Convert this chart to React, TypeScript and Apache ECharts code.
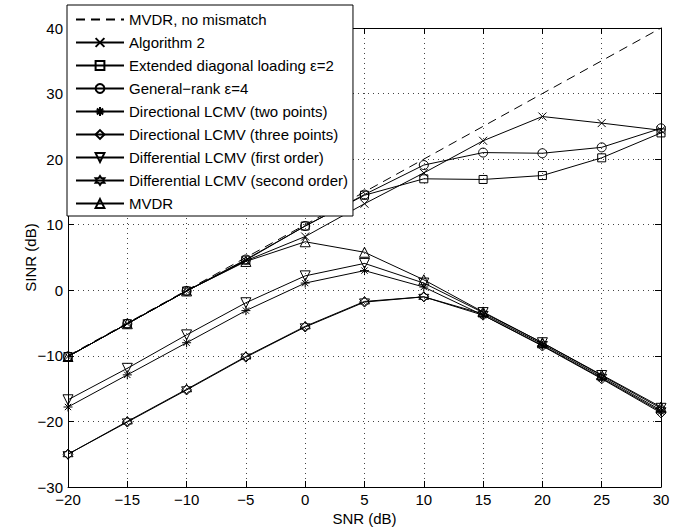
import React, { useEffect, useRef } from "react";
import * as echarts from "echarts";

// SNR grid (dB)
const snr = [-20, -15, -10, -5, 0, 5, 10, 15, 20, 25, 30];

// SINR curves (dB)
const mvdrIdeal = [-10, -5, 0, 5, 10, 15, 20, 25, 30, 35, 40];
const algorithm2 = [-10.1, -5.1, -0.1, 4.5, 8.2, 13.2, 17.9, 22.8, 26.5, 25.5, 24.4];
const extDiagLoading = [-10.1, -5.1, -0.1, 4.6, 9.8, 14.5, 17.0, 16.9, 17.5, 20.2, 24.0];
const generalRank = [-10.1, -5.1, -0.1, 4.7, 9.8, 14.6, 19.1, 21.0, 20.9, 21.8, 24.7];
const dirLcmvTwo = [-17.8, -12.9, -8.0, -3.1, 1.1, 3.0, 0.5, -3.8, -8.4, -13.4, -18.5];
const dirLcmvThree = [-25.0, -20.1, -15.2, -10.2, -5.6, -1.8, -1.0, -3.8, -8.5, -13.5, -18.7];
const diffLcmvFirst = [-16.7, -11.9, -6.8, -1.9, 2.2, 4.1, 1.1, -3.4, -8.0, -13.0, -18.0];
const diffLcmvSecond = [-25.0, -20.0, -15.1, -10.1, -5.5, -1.7, -1.0, -3.6, -8.2, -13.2, -18.3];
const mvdr = [-10.1, -5.1, -0.1, 4.4, 7.4, 5.8, 1.6, -3.3, -8.0, -12.9, -17.8];

// Tick values
const xTicks = { min: -20, max: 30, step: 5 };
const yTicks = { min: -30, max: 40, step: 10 };

const seriesNames = [
  "MVDR, no mismatch",
  "Algorithm 2",
  "Extended diagonal loading \u03b5=2",
  "General\u2212rank \u03b5=4",
  "Directional LCMV (two points)",
  "Directional LCMV (three points)",
  "Differential LCMV (first order)",
  "Differential LCMV (second order)",
  "MVDR",
];

// Marker outlines
const SYM_X = "path://M0 0 L10 10 M10 0 L0 10";
const SYM_STAR = "path://M5 0 L5 10 M0 5 L10 5 M1.5 1.5 L8.5 8.5 M8.5 1.5 L1.5 8.5";
const SYM_TRI_DOWN = "path://M0 0 L10 0 L5 10 Z";
const SYM_TRI_UP = "path://M5 0 L10 10 L0 10 Z";
const SYM_HEXAGRAM =
  "path://M5 0 L6.443 2.5 L9.33 2.5 L7.887 5 L9.33 7.5 L6.443 7.5 L5 10 L3.557 7.5 L0.67 7.5 L2.113 5 L0.67 2.5 L3.557 2.5 Z";

const FONT = "'Liberation Sans', Arial, Helvetica, sans-serif";
const FONT_SIZE = 15;

const fmt = (v: number) => String(v).replace("-", "\u2212");

function makeSeries(
  name: string,
  values: number[],
  symbol: string,
  symbolSize: number,
  dashed = false
) {
  const noMarker = symbol === "none";
  return {
    name,
    type: "line",
    data: snr.map((x, i) => [x, values[i]]),
    symbol: noMarker ? "circle" : symbol,
    symbolSize,
    showSymbol: !noMarker,
    color: "#000",
    lineStyle: {
      color: "#000",
      width: 1,
      type: dashed ? [9, 6] : "solid",
    },
    itemStyle: {
      color: "rgba(0,0,0,0)",
      borderColor: noMarker ? "rgba(0,0,0,0)" : "#000",
      borderWidth: noMarker ? 0 : 1,
    },
    emphasis: { disabled: true },
    z: 2,
  };
}

export default function App() {
  const ref = useRef<HTMLDivElement>(null);

  useEffect(() => {
    if (!ref.current) return;
    const chart = echarts.init(ref.current, undefined, { renderer: "svg" });

    const axisLine = { show: true, onZero: false, lineStyle: { color: "#000", width: 1 } };
    const axisTick = { show: true, inside: true, length: 6, lineStyle: { color: "#000" } };
    const label = { color: "#000", fontSize: FONT_SIZE, fontFamily: FONT, formatter: fmt };
    const grid = { show: true, lineStyle: { color: "#444", type: [1, 4], width: 1 } };

    chart.setOption({
      animation: false,
      backgroundColor: "#fff",
      grid: { left: 68, top: 28, width: 593, height: 459, containLabel: false },
      xAxis: [
        {
          type: "value",
          position: "bottom",
          min: xTicks.min,
          max: xTicks.max,
          interval: xTicks.step,
          axisLine,
          axisTick,
          axisLabel: { ...label, margin: 5 },
          splitLine: grid,
          name: "SNR (dB)",
          nameLocation: "middle",
          nameGap: 24,
          nameMoveOverlap: false,
          nameTextStyle: { color: "#000", fontSize: FONT_SIZE, fontFamily: FONT },
        },
        {
          type: "value",
          position: "top",
          min: xTicks.min,
          max: xTicks.max,
          interval: xTicks.step,
          axisLine,
          axisTick,
          axisLabel: { show: false },
          splitLine: { show: false },
        },
      ],
      yAxis: [
        {
          type: "value",
          position: "left",
          min: yTicks.min,
          max: yTicks.max,
          interval: yTicks.step,
          axisLine,
          axisTick,
          axisLabel: { ...label, margin: 5 },
          splitLine: grid,
          name: "SINR (dB)",
          nameLocation: "middle",
          nameGap: 30,
          nameRotate: 90,
          nameMoveOverlap: false,
          nameTextStyle: { color: "#000", fontSize: FONT_SIZE, fontFamily: FONT },
        },
        {
          type: "value",
          position: "right",
          min: yTicks.min,
          max: yTicks.max,
          interval: yTicks.step,
          axisLine,
          axisTick,
          axisLabel: { show: false },
          splitLine: { show: false },
        },
      ],
      legend: {
        orient: "vertical",
        left: 67,
        top: 5,
        padding: [7, 5, 5, 8],
        itemWidth: 48,
        itemHeight: 11,
        itemGap: 8,
        backgroundColor: "#fff",
        borderColor: "#000",
        borderWidth: 1,
        selectedMode: false,
        data: seriesNames,
        textStyle: { color: "#000", fontSize: FONT_SIZE, fontFamily: FONT, lineHeight: 14 },
        z: 10,
      },
      series: [
        makeSeries(seriesNames[0], mvdrIdeal, "none", 0, true),
        makeSeries(seriesNames[1], algorithm2, SYM_X, 8),
        makeSeries(seriesNames[2], extDiagLoading, "rect", 8),
        makeSeries(seriesNames[3], generalRank, "circle", 9),
        makeSeries(seriesNames[4], dirLcmvTwo, SYM_STAR, 9),
        makeSeries(seriesNames[5], dirLcmvThree, "diamond", 10),
        makeSeries(seriesNames[6], diffLcmvFirst, SYM_TRI_DOWN, 10),
        makeSeries(seriesNames[7], diffLcmvSecond, SYM_HEXAGRAM, 10),
        makeSeries(seriesNames[8], mvdr, SYM_TRI_UP, 10),
      ],
    });

    return () => chart.dispose();
  }, []);

  return (
    <div
      ref={ref}
      style={{ position: "absolute", left: 0, top: 0, width: 697, height: 532, background: "#fff" }}
    />
  );
}
